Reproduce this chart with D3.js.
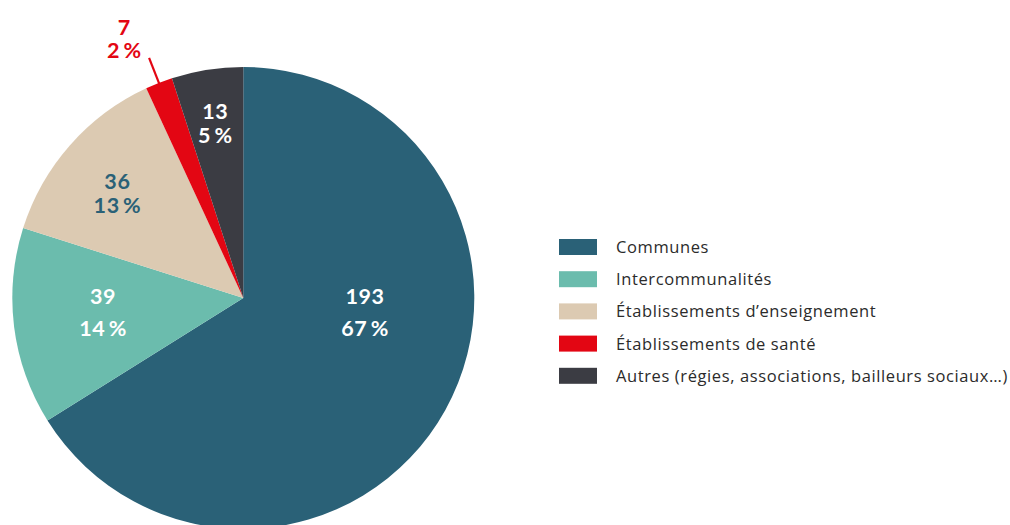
<!DOCTYPE html>
<html>
<head>
<meta charset="utf-8">
<script src="https://cdn.jsdelivr.net/npm/d3@7"></script>
<style>
html,body{margin:0;padding:0;background:#fff;}
svg{display:block;}
</style>
</head>
<body>
<svg id="chart" width="1010" height="525"></svg>
<script>
// ---- data ----
const categories = ["Communes", "Intercommunalités", "Établissements d’enseignement", "Établissements de santé", "Autres (régies, associations, bailleurs sociaux…)"];
const values = [193, 39, 36, 7, 13];
const percents = [67, 14, 13, 2, 5];
// slice shares as drawn in the reference (percent of the full circle)
const shares = [66.1, 13.8, 13.2, 1.9, 5.0];
const colors = ["#2a6177", "#6bbcad", "#dccab2", "#e30613", "#3b3c43"];
const labelColors = ["#ffffff", "#ffffff", "#2a6177", "#e30613", "#ffffff"];

// ---- layout (label anchor offsets, in units of radius; line gap in px) ----
const labelLayout = [
  {dx: 0.527, dy: 0.061, gap: 32},
  {dx: -0.607, dy: 0.061, gap: 32},
  {dx: -0.545, dy: -0.452, gap: 24},
  {dx: -0.515, dy: -1.123, gap: 23},
  {dx: -0.121, dy: -0.756, gap: 23.3}
];

const svg = d3.select("#chart");
const cx = 243.3, cy = 298, R = 231;
const FONT = "Lato, 'Open Sans', sans-serif";
const LEGEND_FONT = "'Open Sans', Lato, sans-serif";

const pie = d3.pie().sort(null).value(d => d)(shares);
const arc = d3.arc().innerRadius(0).outerRadius(R);

const g = svg.append("g").attr("transform", `translate(${cx},${cy})`);
g.selectAll("path.slice").data(pie).join("path")
  .attr("class", "slice")
  .attr("d", arc)
  .attr("fill", (d, i) => colors[i]);

// leader line for the small slice
const santeArc = pie[3];
const midA = (santeArc.startAngle + santeArc.endAngle) / 2;
const pt = r => [Math.sin(midA) * r, -Math.cos(midA) * r];
const p0 = pt(R - 1), p1 = pt(R + 27);
g.append("line")
  .attr("x1", p0[0]).attr("y1", p0[1])
  .attr("x2", p1[0]).attr("y2", p1[1])
  .attr("stroke", colors[3]).attr("stroke-width", 2.2);

const fmtPct = p => p + "\u2009%";
labelLayout.forEach((L, i) => {
  const x = L.dx * R, y = L.dy * R;
  const t = g.append("text")
    .attr("x", x).attr("y", y)
    .attr("text-anchor", "middle")
    .attr("font-family", FONT)
    .attr("font-weight", 700)
    .attr("font-size", 21.5)
    .attr("letter-spacing", 0.6)
    .attr("fill", labelColors[i]);
  t.append("tspan").attr("x", x).attr("dy", -L.gap / 2 + 7.5).text(values[i]);
  t.append("tspan").attr("x", x).attr("dy", L.gap).text(fmtPct(percents[i]));
});

// legend
const legend = svg.append("g").attr("transform", "translate(559,239)");
const rows = legend.selectAll("g").data(categories).join("g")
  .attr("transform", (d, i) => `translate(0,${i * 32.2})`);
rows.append("rect").attr("width", 38).attr("height", 16).attr("fill", (d, i) => colors[i]);
const texts = rows.append("text")
  .attr("x", 57).attr("y", 14)
  .attr("font-family", LEGEND_FONT)
  .attr("font-size", 16.5)
  .attr("fill", "#2b2b2b")
  .text(d => d);
// adjust letter spacing so the longest entry spans the same width as the reference
const longest = texts.nodes()[categories.length - 1];
const w = longest.getComputedTextLength();
const n = categories[categories.length - 1].length;
const ls = (392 - w) / n;
texts.attr("letter-spacing", ls);
</script>
</body>
</html>
